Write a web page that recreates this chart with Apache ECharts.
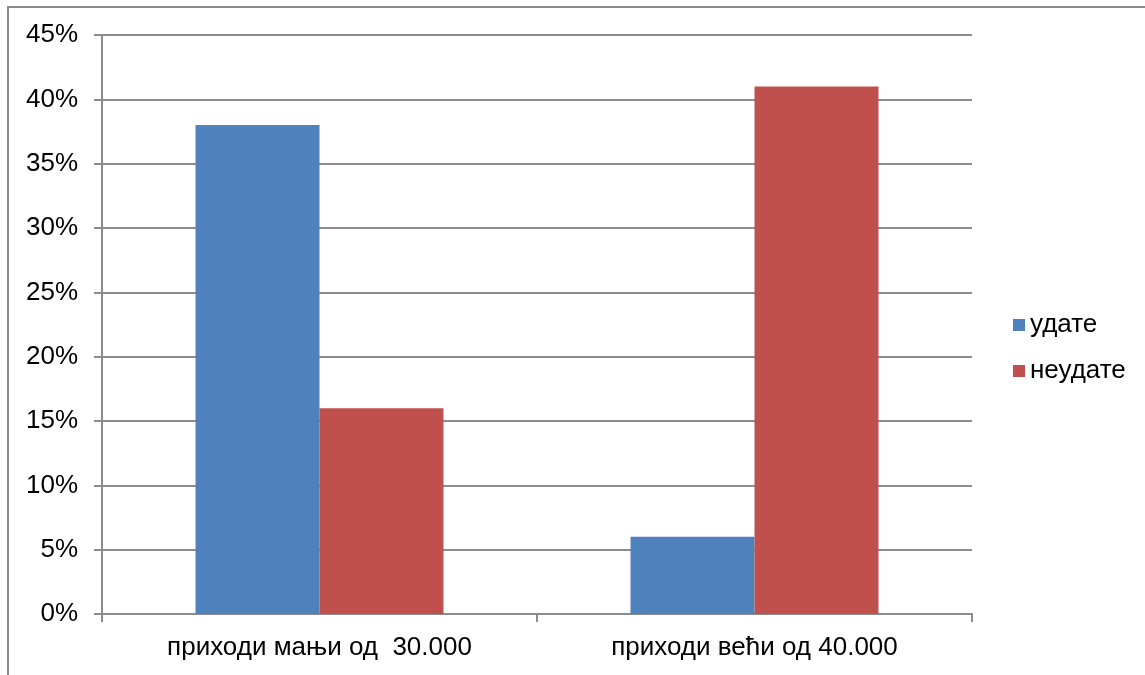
<!DOCTYPE html>
<html>
<head>
<meta charset="utf-8">
<script src="https://cdn.jsdelivr.net/npm/echarts@6/dist/echarts.min.js"></script>
<style>
html,body{margin:0;padding:0;background:#fff;overflow:hidden;}
#frame{position:absolute;left:7px;top:6px;width:1200px;height:800px;border:2px solid #8c8c8c;box-sizing:border-box;}
#chart{position:absolute;left:0;top:0;width:1145px;height:675px;}
</style>
</head>
<body>
<div id="frame"></div>
<div id="chart"></div>
<script>
const categories = ['приходи мањи од  30.000', 'приходи већи од 40.000'];
const seriesNames = ['удате', 'неудате'];
const udate = [38, 6];
const neudate = [16, 41];
const yTicks = [0, 5, 10, 15, 20, 25, 30, 35, 40, 45];

const chart = echarts.init(document.getElementById('chart'), null, {renderer: 'canvas'});
const font = 'Liberation Sans, Arial, sans-serif';
chart.setOption({
  animation: false,
  textStyle: {fontFamily: font},
  grid: {left: 102, right: 173, top: 35, bottom: 61, containLabel: false},
  legend: {
    orient: 'vertical',
    left: 1008,
    top: 307,
    padding: 5,
    itemWidth: 12,
    itemHeight: 12,
    itemGap: 20,
    icon: 'rect',
    textStyle: {fontSize: 26, color: '#000', fontFamily: font},
    data: seriesNames
  },
  xAxis: {
    type: 'category',
    data: categories,
    axisLine: {lineStyle: {color: '#8c8c8c', width: 2}},
    axisTick: {show: true, length: 8, lineStyle: {color: '#8c8c8c', width: 2}, alignWithLabel: false},
    axisLabel: {fontSize: 26, color: '#000', margin: 21, fontFamily: font}
  },
  yAxis: {
    type: 'value',
    min: yTicks[0],
    max: yTicks[yTicks.length - 1],
    interval: 5,
    axisLine: {show: true, lineStyle: {color: '#8c8c8c', width: 2}},
    axisTick: {show: true, length: 8, lineStyle: {color: '#8c8c8c', width: 2}},
    splitLine: {lineStyle: {color: '#8c8c8c', width: 2}},
    axisLabel: {fontSize: 26, color: '#000', margin: 24, formatter: '{value}%', fontFamily: font}
  },
  series: [
    {name: seriesNames[0], type: 'bar', data: udate, barGap: '0%', barCategoryGap: '43%', itemStyle: {color: '#4F81BD'}},
    {name: seriesNames[1], type: 'bar', data: neudate, barGap: '0%', barCategoryGap: '43%', itemStyle: {color: '#C0504D'}}
  ]
});
</script>
</body>
</html>
